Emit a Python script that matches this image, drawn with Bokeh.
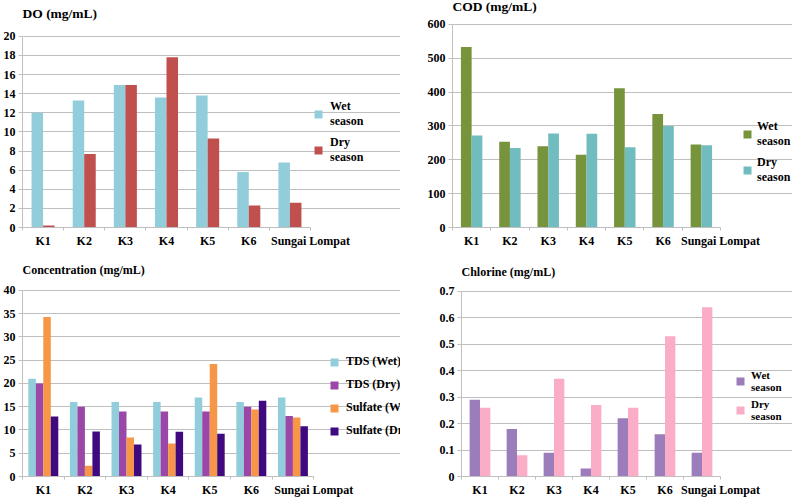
from bokeh.plotting import figure
from bokeh.layouts import column, row
from bokeh.models import Range1d, FixedTicker, Legend, LegendItem, NumeralTickFormatter, Label
from bokeh.embed import file_html
from bokeh.resources import INLINE

sites = ["K1", "K2", "K3", "K4", "K5", "K6", "Sungai Lompat"]

do_wet = [12.0, 13.3, 14.9, 13.6, 13.8, 5.8, 6.8]
do_dry = [0.2, 7.7, 14.9, 17.8, 9.3, 2.3, 2.6]

cod_wet = [533, 253, 240, 215, 411, 335, 245]
cod_dry = [272, 235, 278, 277, 237, 300, 243]

tds_wet = [21, 16, 16, 16, 17, 16, 17]
tds_dry = [20, 15, 14, 14, 14, 15, 13]
sulfate_wet = [34.3, 2.3, 8.4, 7.1, 24.2, 14.4, 12.7]
sulfate_dry = [12.9, 9.7, 6.9, 9.6, 9.2, 16.3, 10.8]

cl_wet = [0.29, 0.18, 0.09, 0.03, 0.22, 0.16, 0.09]
cl_dry = [0.26, 0.08, 0.37, 0.27, 0.26, 0.53, 0.64]

FONT = "Liberation Serif"
GRID = "#bfbfbf"


def make_fig(w, h, left, bottom, plot_w, plot_top, ymax, yticks, title, title_x, title_y,
             title_size="12px"):
    """Frame fills the canvas right of the y-axis and above the x-axis;
    the data area is plot_w px wide and its top tick sits plot_top px below the frame top."""
    n = len(sites)
    frame_w = w - left
    frame_h = h - bottom
    x_end = n * frame_w / plot_w
    y_end = ymax * frame_h / (frame_h - plot_top)
    p = figure(width=w, height=h, x_range=Range1d(0, x_end), y_range=Range1d(0, y_end),
               output_backend="svg", toolbar_location=None,
               min_border_left=left, min_border_right=0,
               min_border_top=0, min_border_bottom=bottom)
    p.outline_line_color = None
    p.xgrid.grid_line_color = None
    p.ygrid.grid_line_color = GRID
    p.ygrid.ticker = FixedTicker(ticks=yticks)
    p.ygrid.bounds = (0, n)

    xa = p.xaxis[0]
    xa.bounds = (0, n)
    centers = [i + 0.5 for i in range(n)]
    # the long last name sits a little right of its slot, as in the original
    label_pos = centers[:-1] + [float(n)]
    xa.ticker = FixedTicker(ticks=label_pos, minor_ticks=list(range(n + 1)))
    xa.major_label_overrides = {c: s for c, s in zip(label_pos, sites)}
    xa.major_tick_line_color = None
    xa.major_tick_out = 0
    xa.minor_tick_line_color = GRID
    xa.minor_tick_out = 3
    xa.minor_tick_in = 0
    xa.axis_line_color = GRID
    xa.major_label_standoff = 3
    xa.major_label_text_font = FONT
    xa.major_label_text_font_style = "bold"
    xa.major_label_text_font_size = "12px"
    xa.major_label_text_color = "black"

    ya = p.yaxis[0]
    ya.bounds = (0, ymax)
    ya.ticker = FixedTicker(ticks=yticks)
    ya.axis_line_color = GRID
    ya.major_tick_line_color = GRID
    ya.major_tick_out = 4
    ya.major_tick_in = 0
    ya.minor_tick_line_color = None
    ya.major_label_standoff = 3
    ya.major_label_text_font = FONT
    ya.major_label_text_font_style = "bold"
    ya.major_label_text_font_size = "12px"
    ya.major_label_text_color = "black"

    p.add_layout(Label(x=title_x, y=frame_h - title_y, x_units="screen", y_units="screen",
                       text=title, text_font=FONT, text_font_style="bold",
                       text_font_size=title_size, text_baseline="middle", text_color="black"))
    return p


def add_bars(p, series, colors, labels, width, loc, spacing, standoff=7,
             font_size="12px", line_height=1.2):
    n = len(sites)
    k = len(series)
    items = []
    for j, (vals, col, lab) in enumerate(zip(series, colors, labels)):
        off = (j - (k - 1) / 2) * width
        xs = [i + 0.5 + off for i in range(n)]
        r = p.vbar(x=xs, top=vals, width=width, fill_color=col, line_color=None)
        items.append(LegendItem(label=lab, renderers=[r]))
    leg = Legend(items=items, location=loc, glyph_width=10, glyph_height=10,
                 label_standoff=standoff, spacing=spacing, padding=0, margin=0,
                 border_line_color=None, background_fill_alpha=0,
                 label_text_font=FONT, label_text_font_style="bold",
                 label_text_font_size=font_size, label_text_color="black",
                 label_text_line_height=line_height, label_height=10)
    p.add_layout(leg, "center")


W1, W2 = 400, 392
H1, H2 = 250, 249

# DO
p1 = make_fig(W1, H1, 22, 22, 288, 36, 20, list(range(0, 21, 2)), "DO (mg/mL)", 0, 14, "13.5px")
add_bars(p1, [do_wet, do_dry], ["#92cddc", "#c0504d"], ["Wet\nseason", "Dry\nseason"], 0.28,
         (291, 62), 6)

# COD
p2 = make_fig(W2, H1, 52, 22, 268, 24, 600, list(range(0, 601, 100)), "COD (mg/mL)", 0, 7, "13.5px")
add_bars(p2, [cod_wet, cod_dry], ["#77933c", "#70bcbe"], ["Wet\nseason", "Dry\nseason"], 0.28,
         (290, 42), 6, 5)

# Concentration
p3 = make_fig(W1, H2, 21, 17, 292, 41, 40, list(range(0, 41, 5)), "Concentration (mg/mL)", 0, 25)
add_bars(p3, [tds_wet, tds_dry, sulfate_wet, sulfate_dry],
         ["#92cddc", "#9b47a8", "#f79646", "#3f0a80"],
         ["TDS (Wet)", "TDS (Dry)", "Sulfate (Wet)", "Sulfate (Dry)"], 0.18,
         (307, 38), 8)

# Chlorine
p4 = make_fig(W2, H2, 61, 17, 259, 42, 0.7, [round(i * 0.1, 1) for i in range(8)],
              "Chlorine (mg/mL)", 0, 27)
p4.yaxis[0].formatter = NumeralTickFormatter(format="0.[0]")
add_bars(p4, [cl_wet, cl_dry], ["#9a7dba", "#fbadc8"], ["Wet\nseason", "Dry\nseason"], 0.28,
         (274, 54), 5, 6, "11px", 1.1)

layout = column(row(p1, p2), row(p3, p4))

open("out.html", "w").write(file_html(layout, INLINE))
